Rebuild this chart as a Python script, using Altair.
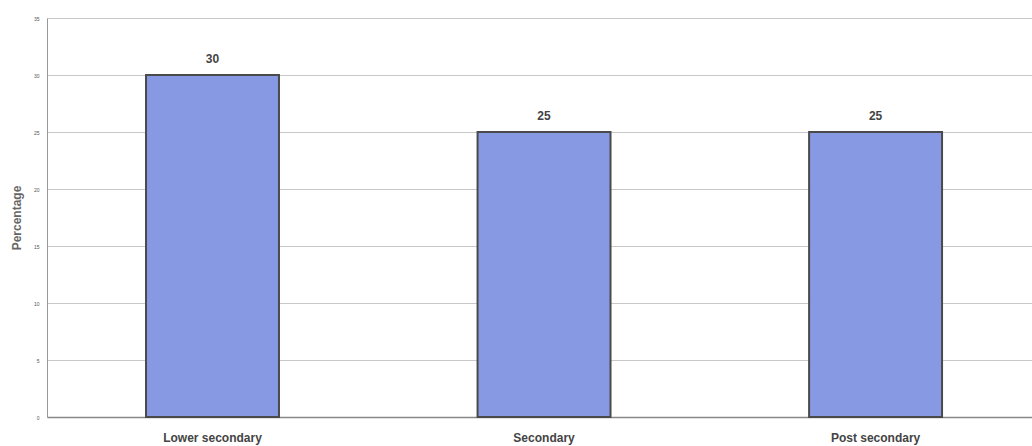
import altair as alt
import pandas as pd

categories = ["Lower secondary", "Secondary", "Post secondary"]
values = [30, 25, 25]
y_ticks = [0, 5, 10, 15, 20, 25, 30, 35]

df = pd.DataFrame({"cat": categories, "val": values})

x = alt.X("cat:N", sort=categories, title=None,
          scale=alt.Scale(paddingInner=0.599, paddingOuter=0.285, align=0.524),
          axis=alt.Axis(labelAngle=0, labelFont="Liberation Sans", labelFontWeight="bold",
                        labelFontSize=12, labelColor="#444444", labelPadding=15,
                        ticks=False, domainColor="#888888", domainWidth=1.5, grid=False))
y = alt.Y("val:Q", title="Percentage",
          scale=alt.Scale(domain=[0, 35], nice=False),
          axis=alt.Axis(values=y_ticks, labelFontSize=5, labelColor="#555555",
                        labelPadding=8, ticks=False, domainColor="#999999",
                        gridColor="#c8c8c8", gridWidth=1,
                        titleFont="Liberation Sans", titleFontSize=12, titleFontWeight="bold",
                        titleColor="#666666", titlePadding=10))

bars = alt.Chart(df).mark_bar(color="#8799E2", stroke="#4a4a4a", strokeWidth=2).encode(x=x, y=y)
labels = alt.Chart(df).mark_text(dy=-16, font="Liberation Sans", fontWeight="bold",
                                 fontSize=12, color="#444444").encode(
    x=alt.X("cat:N", sort=categories), y="val:Q", text="val:Q")

chart = (bars + labels).properties(
    width=985, height=399,
    autosize=alt.AutoSizeParams(type="none"),
    padding={"left": 47, "top": 18, "right": 0, "bottom": 29},
).configure_view(stroke=None).configure(background="white")

chart.save("out.html", embed_options={"renderer": "svg", "actions": False})
